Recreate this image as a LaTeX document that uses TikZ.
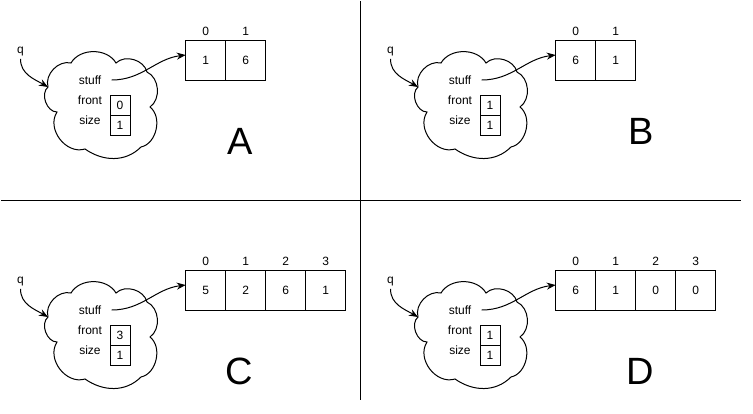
\documentclass[tikz,border=0pt]{standalone}
\usepackage{fontspec}
\setmainfont{Liberation Sans}
\usetikzlibrary{arrows.meta,positioning}

\begin{document}
\begin{tikzpicture}[x=1pt,y=1pt,line width=1pt,
  font=\fontsize{12}{14}\selectfont,
  lbl/.style={inner sep=0pt},
  valbox/.style={draw,minimum size=20pt,inner sep=0pt,outer sep=0pt},
  cell/.style={draw,minimum size=40pt,inner sep=0pt,outer sep=0pt},
  big/.style={inner sep=0pt,font=\fontsize{38}{40}\selectfont},
  ptr/.style={-{Stealth[length=9pt,width=7pt,inset=3pt]}},
  qcloud/.pic={
    \draw[fill=white] (48,-87) coordinate (-west)
      to[out=106,in=166] (71,-63)
      to[out=60,in=120] (116,-63)
      to[out=44,in=104] (147,-72)
      to[out=-25,in=35] (150,-107)
      to[out=-38,in=12] (141,-147)
      to[out=225,in=325] (85,-149)
      to[out=197,in=237,looseness=1.1] (57,-112)
      to[out=180,in=220] (48,-87) -- cycle;
  }]
\useasboundingbox (0,0) rectangle (753,-413);

\draw (1,-200) -- (741,-200);
\draw (360,-1) -- (360,-400);

% A
\pic (cloudA) at (0,0) {qcloud};
\node[inner sep=2pt] (qA) at (20.5,-52) {q};
\node[lbl] (stuffA) at (90,-80) {stuff};
\node[lbl] (frontA) at (90,-100) {front};
\node[lbl] (sizeA) at (90,-120) {size};
\node[valbox] (fA) at (120,-105.7) {0};
\node[valbox, below=0pt of fA] (sA) {1};
\node[cell] (cellA0) at (205.7,-60) {1};
\node[cell, right=0pt of cellA0] (cellA1) {6};
\node[lbl, above=4pt of cellA0] (idxA0) {0};
\node[lbl, above=4pt of cellA1] (idxA1) {1};
\node[big] (letterA) at (240,-141) {A};
\draw[ptr] (qA) to[out=-90,in=150] (cloudA-west);
\draw[ptr] ([xshift=10pt]stuffA.east) to[out=0,in=187] ([yshift=5pt]cellA0.west);

% B
\begin{scope}[shift={(370,0)}]
\pic (cloudB) at (0,0) {qcloud};
\node[inner sep=2pt] (qB) at (20.5,-52) {q};
\node[lbl] (stuffB) at (90,-80) {stuff};
\node[lbl] (frontB) at (90,-100) {front};
\node[lbl] (sizeB) at (90,-120) {size};
\node[valbox] (fB) at (120,-105.7) {1};
\node[valbox, below=0pt of fB] (sB) {1};
\node[cell] (cellB0) at (205.7,-60) {6};
\node[cell, right=0pt of cellB0] (cellB1) {1};
\node[lbl, above=4pt of cellB0] (idxB0) {0};
\node[lbl, above=4pt of cellB1] (idxB1) {1};
\node[big] (letterB) at (271,-131) {B};
\draw[ptr] (qB) to[out=-90,in=150] (cloudB-west);
\draw[ptr] ([xshift=10pt]stuffB.east) to[out=0,in=187] ([yshift=5pt]cellB0.west);
\end{scope}

% C
\begin{scope}[shift={(0,-230)}]
\pic (cloudC) at (0,0) {qcloud};
\node[inner sep=2pt] (qC) at (20.5,-52) {q};
\node[lbl] (stuffC) at (90,-80) {stuff};
\node[lbl] (frontC) at (90,-100) {front};
\node[lbl] (sizeC) at (90,-120) {size};
\node[valbox] (fC) at (120,-105.7) {3};
\node[valbox, below=0pt of fC] (sC) {1};
\node[cell] (cellC0) at (205.7,-60) {5};
\node[cell, right=0pt of cellC0] (cellC1) {2};
\node[cell, right=0pt of cellC1] (cellC2) {6};
\node[cell, right=0pt of cellC2] (cellC3) {1};
\node[lbl, above=4pt of cellC0] (idxC0) {0};
\node[lbl, above=4pt of cellC1] (idxC1) {1};
\node[lbl, above=4pt of cellC2] (idxC2) {2};
\node[lbl, above=4pt of cellC3] (idxC3) {3};
\node[big] (letterC) at (239.5,-141) {C};
\draw[ptr] (qC) to[out=-90,in=150] (cloudC-west);
\draw[ptr] ([xshift=10pt]stuffC.east) to[out=0,in=187] ([yshift=5pt]cellC0.west);
\end{scope}

% D
\begin{scope}[shift={(370,-230)}]
\pic (cloudD) at (0,0) {qcloud};
\node[inner sep=2pt] (qD) at (20.5,-52) {q};
\node[lbl] (stuffD) at (90,-80) {stuff};
\node[lbl] (frontD) at (90,-100) {front};
\node[lbl] (sizeD) at (90,-120) {size};
\node[valbox] (fD) at (120,-105.7) {1};
\node[valbox, below=0pt of fD] (sD) {1};
\node[cell] (cellD0) at (205.7,-60) {6};
\node[cell, right=0pt of cellD0] (cellD1) {1};
\node[cell, right=0pt of cellD1] (cellD2) {0};
\node[cell, right=0pt of cellD2] (cellD3) {0};
\node[lbl, above=4pt of cellD0] (idxD0) {0};
\node[lbl, above=4pt of cellD1] (idxD1) {1};
\node[lbl, above=4pt of cellD2] (idxD2) {2};
\node[lbl, above=4pt of cellD3] (idxD3) {3};
\node[big] (letterD) at (270.5,-141) {D};
\draw[ptr] (qD) to[out=-90,in=150] (cloudD-west);
\draw[ptr] ([xshift=10pt]stuffD.east) to[out=0,in=187] ([yshift=5pt]cellD0.west);
\end{scope}
\end{tikzpicture}
\end{document}
